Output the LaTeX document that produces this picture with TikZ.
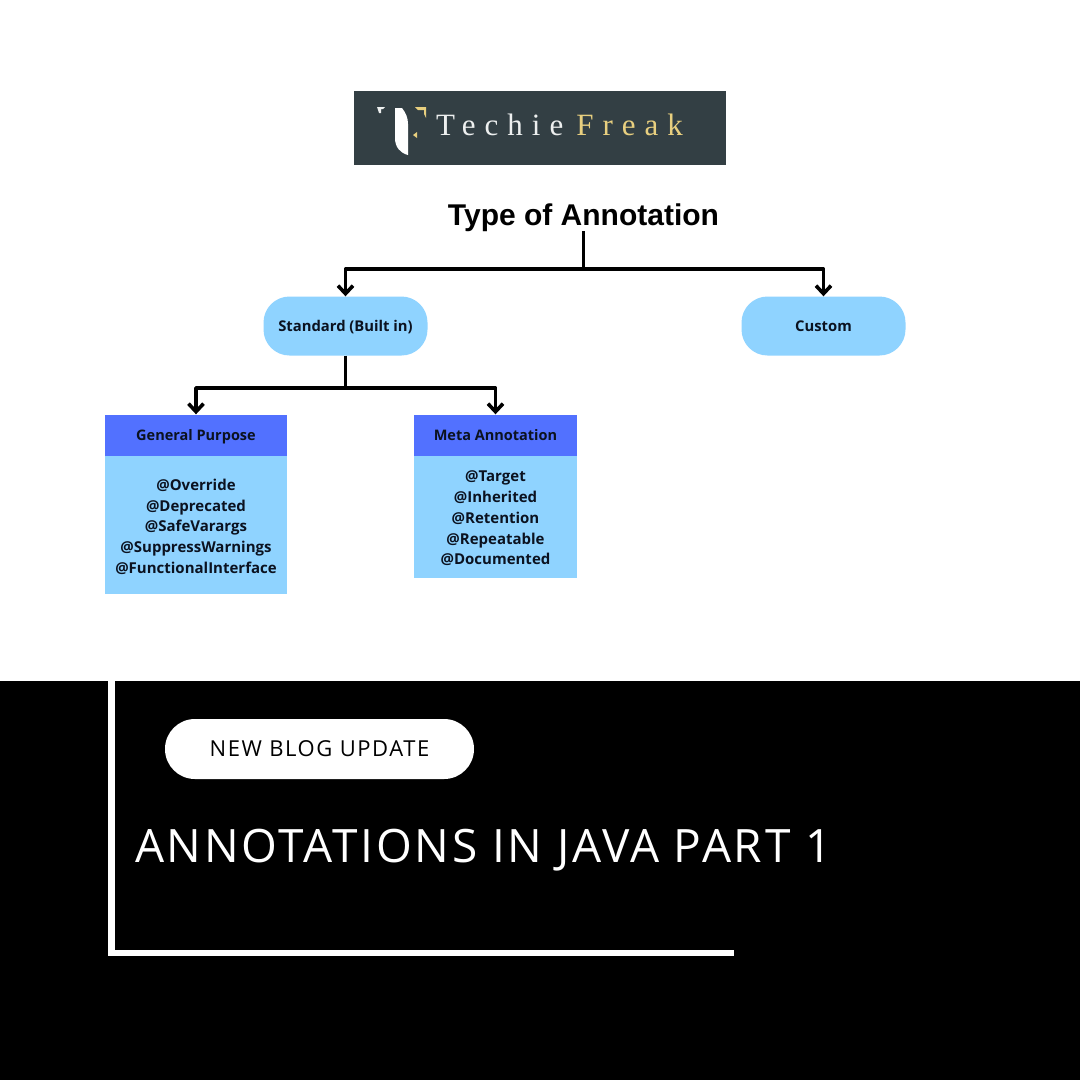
\documentclass[tikz,border=0pt]{standalone}
\usepackage{fontspec}
\setmainfont{Open Sans}
\newfontfamily\titlefont{Liberation Sans}
\newfontfamily\logofont[LetterSpace=29]{Liberation Serif}
\newfontfamily\bannerfont[LetterSpace=5.9]{Open Sans}
\newfontfamily\badgefont[LetterSpace=7.2]{Open Sans}
\usetikzlibrary{arrows.meta}
\definecolor{lightblue}{HTML}{8FD3FF}
\definecolor{headblue}{HTML}{5271FF}
\definecolor{logobg}{HTML}{333F44}
\definecolor{logogold}{HTML}{E8CF7F}
\definecolor{logowhite}{HTML}{EDEFEF}
\definecolor{inkdark}{HTML}{0B1220}
\tikzset{
  x=1pt,y=-1pt,
  pill/.style={fill=lightblue,rounded corners=26pt,minimum width=164pt,minimum height=59pt,inner sep=0pt,text height=12.5pt,text depth=1pt,font=\fontsize{14.8}{16}\selectfont\bfseries,text=inkdark},
  headbox/.style={fill=headblue,minimum height=42pt,inner sep=0pt,text height=12pt,text depth=1.5pt,font=\fontsize{14.5}{16}\selectfont\bfseries,text=inkdark},
  listbox/.style={fill=lightblue,inner sep=0pt,align=center,font=\fontsize{15}{20.8}\selectfont\bfseries,text=inkdark},
  conn/.style={line width=3.6pt,line join=round,-{Straight Barb[length=8pt,width=15pt,line width=3.6pt]}},
  trunk/.style={line width=3.6pt},
}
\begin{document}
\begin{tikzpicture}
\useasboundingbox (0,0) rectangle (1080,1080);
\fill[white] (0,0) rectangle (1080,681);
\fill[black] (0,681) rectangle (1080,1080);

% logo
\fill[logobg] (354,91) rectangle (726,165);
\fill[white] (395,108) -- (402,108) .. controls (406,113) and (408,118) .. (408,124) -- (408,155) .. controls (400,153) and (395,147) .. (395,138) -- cycle;
\fill[logowhite] (377,107) -- (385,107) -- (383,109) -- (381,109) -- (381,113) -- (379,113) -- cycle;
\fill[logogold] (415,107) -- (426,107) -- (426,118) -- (424,114) -- (424,110) -- (418,110) -- cycle;
\fill[logogold] (417,132) -- (417,138) -- (413,135) -- cycle;
\node[anchor=base west,inner sep=0pt,font=\logofont\fontsize{31}{32}\selectfont] (logotext) at (436,135) {\textcolor{logowhite}{Techie}\hspace{13pt}\textcolor{logogold}{Freak}};

% tree
\node[inner sep=0pt,font=\titlefont\fontsize{30}{34}\selectfont\bfseries,text=black] (title) at (583.5,218) {Type of Annotation};
\node[pill] (standard) at (345.5,326) {Standard (Built in)};
\node[pill] (custom) at (823.5,326) {Custom};
\node[headbox,minimum width=182pt] (general) at (196,435.5) {General Purpose};
\node[headbox,minimum width=163pt] (meta) at (495.5,435.5) {Meta Annotation};
\node[listbox,anchor=north,minimum width=182pt,minimum height=138pt] (generallist) at (196,456) {\rule{0pt}{14.5pt}@Override\\@Deprecated\\@SafeVarargs\\@SuppressWarnings\\@FunctionalInterface};
\node[listbox,anchor=north,minimum width=163pt,minimum height=122pt] (metalist) at (495.5,456) {\rule{0pt}{13.5pt}@Target\\@Inherited\\@Retention\\@Repeatable\\@Documented};

\coordinate (split1) at (583.5,269);
\coordinate (split2) at (345.5,388);
\draw[trunk] (583.5,231) -- (split1);
\draw[conn] (split1) -| (standard.north);
\draw[conn] (split1) -| (custom.north);
\draw[trunk] (standard.south) -- (split2);
\draw[conn] (split2) -| (general.north);
\draw[conn] (split2) -| (meta.north);

% banner
\fill[white] (108,681) rectangle (115,956);
\fill[white] (108,950) rectangle (734,956);
\node[fill=white,rounded corners=29.9pt,minimum width=309pt,minimum height=60pt,inner sep=0pt,text=black,font=\badgefont\fontsize{22}{26}\selectfont] (badge) at (319.5,749) {NEW BLOG UPDATE};
\node[anchor=base west,inner sep=0pt,text=white,font=\bannerfont\fontsize{46}{50}\selectfont] (headline) at (135,862) {ANNOTATIONS IN JAVA PART 1};
\end{tikzpicture}
\end{document}
